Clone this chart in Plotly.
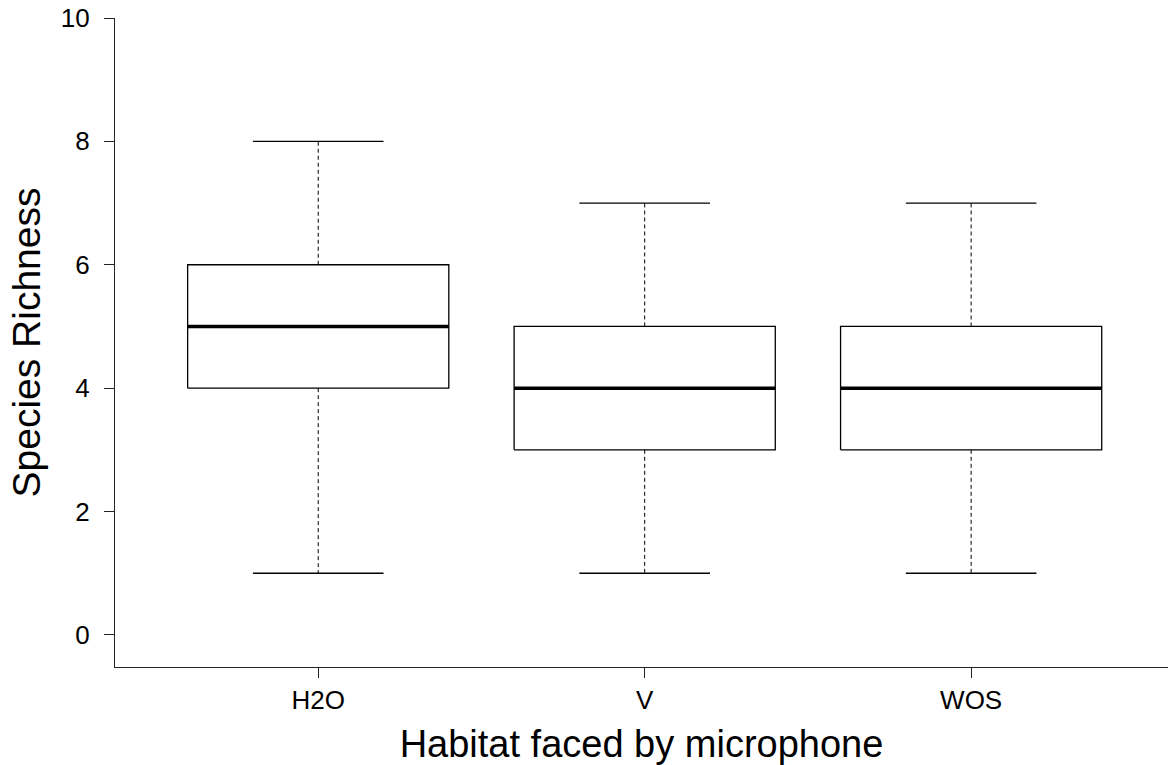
import plotly.graph_objects as go

# Data
categories = ["H2O", "V", "WOS"]
lower_whisker = [1, 1, 1]
q1 = [4, 3, 3]
median = [5, 4, 4]
q3 = [6, 5, 5]
upper_whisker = [8, 7, 7]
y_ticks = [0, 2, 4, 6, 8, 10]

positions = [1, 2, 3]
BOX_HALF = 0.4
CAP_HALF = 0.2

box_x, box_y = [], []
med_x, med_y = [], []
wh_x, wh_y = [], []
cap_x, cap_y = [], []
for p, lo, a, m, b, hi in zip(positions, lower_whisker, q1, median, q3, upper_whisker):
    box_x += [p - BOX_HALF, p + BOX_HALF, p + BOX_HALF, p - BOX_HALF, p - BOX_HALF, None]
    box_y += [a, a, b, b, a, None]
    med_x += [p - BOX_HALF, p + BOX_HALF, None]
    med_y += [m, m, None]
    wh_x += [p, p, None, p, p, None]
    wh_y += [b, hi, None, a, lo, None]
    cap_x += [p - CAP_HALF, p + CAP_HALF, None, p - CAP_HALF, p + CAP_HALF, None]
    cap_y += [hi, hi, None, lo, lo, None]

fig = go.Figure()
fig.add_trace(go.Scatter(x=wh_x, y=wh_y, mode="lines",
                         line=dict(color="black", width=1, dash="4px,3px"),
                         hoverinfo="skip", showlegend=False))
fig.add_trace(go.Scatter(x=cap_x, y=cap_y, mode="lines",
                         line=dict(color="black", width=1.3),
                         hoverinfo="skip", showlegend=False))
fig.add_trace(go.Scatter(x=box_x, y=box_y, mode="lines",
                         line=dict(color="black", width=1.3),
                         hoverinfo="skip", showlegend=False))
fig.add_trace(go.Scatter(x=med_x, y=med_y, mode="lines",
                         line=dict(color="black", width=3.5),
                         hoverinfo="skip", showlegend=False))

font_family = "Liberation Sans, Arial, sans-serif"
fig.update_layout(
    width=1168, height=765,
    margin=dict(l=115, r=0, t=18, b=98),
    plot_bgcolor="white", paper_bgcolor="white",
    font=dict(family=font_family, color="black"),
    xaxis=dict(
        range=[0.3775, 3.603],
        tickmode="array", tickvals=positions, ticktext=categories,
        showgrid=False, zeroline=False,
        showline=True, linecolor="#222", linewidth=1.3,
        ticks="outside", ticklen=10, tickwidth=1.3, tickcolor="#222",
        tickfont=dict(size=26, family=font_family, color="black"),
        title=dict(text="Habitat faced by microphone",
                   font=dict(size=38, family=font_family, color="black"),
                   standoff=19),
    ),
    yaxis=dict(
        range=[-0.52, 10],
        tickmode="array", tickvals=y_ticks, ticktext=[str(v) for v in y_ticks],
        showgrid=False, zeroline=False,
        showline=True, linecolor="#222", linewidth=1.3,
        ticks="outside", ticklen=10, tickwidth=1.3, tickcolor="#222",
        tickfont=dict(size=26, family=font_family, color="black"),
        ticklabelstandoff=9,
        title=dict(text="Species Richness",
                   font=dict(size=39, family=font_family, color="black"),
                   standoff=8),
    ),
)

fig.write_html("out.html")
